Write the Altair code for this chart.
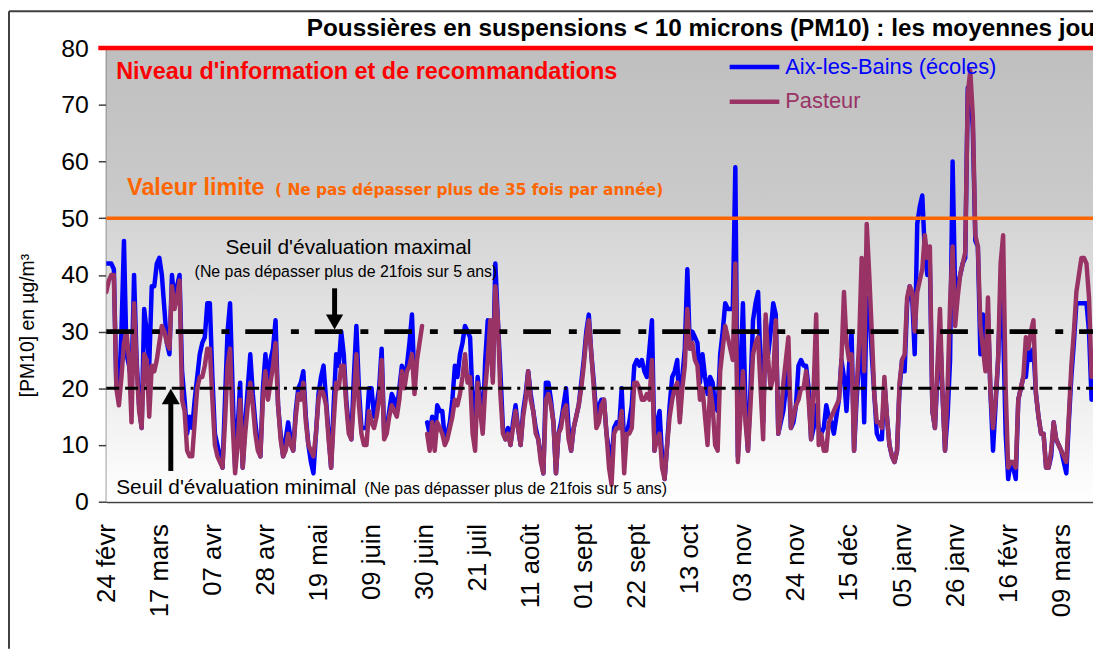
import json
import altair as alt
import pandas as pd

# ---------------- data ----------------
tick_labels = ["24 févr", "17 mars", "07 avr", "28 avr", "19 mai", "09 juin", "30 juin",
               "21 juil", "11 août", "01 sept", "22 sept", "13 oct", "03 nov", "24 nov",
               "15 déc", "05 janv", "26 janv", "16 févr", "09 mars"]
tick_step_days = 21
series_names = ["Aix-les-Bains (écoles)", "Pasteur"]
series_colors = ["#0000ff", "#993366"]

aix = [
    42, 42, 42, 41, 20, 19, 30, 46, 26, 24,
    21, 40, 25, 17, 13, 34, 30, 24, 38, 38,
    42, 43, 40, 34, 28, 26, 40, 35, 38, 40,
    23, 18, 12, 15, 13, 18, 22, 26, 28, 29,
    35, 35, 22, 12, 10, 8, 6, 18, 30, 35,
    20, 6, 13, 21, 6, 14, 20, 26, 19, 14,
    10, 8, 20, 26, 19, 25, 27, 32, 17, 12,
    8, 11, 14, 11, 9, 16, 20, 21, 23, 15,
    10, 7, 5, 12, 19, 22, 24, 18, 12, 6,
    17, 26, 24, 30, 26, 18, 13, 11, 22, 31,
    20, 13, 13, 13, 20, 20, 15, 17, 20, 27,
    12, 13, 16, 19, 18, 16, 20, 24, 22, 24,
    28, 33, 21, None, None, None, None, 14, 12, 15,
    11, 17, 16, 16, 11, 12, 14, 18, 24, 22,
    26, 28, 31, 30, 29, 18, 14, 22, 18, 13,
    25, 32, 30, 22, 42, 32, 23, 13, 11, 13,
    10, 14, 17, 13, 10, 16, 19, 23, 19, 16,
    13, 11, 8, 5, 21, 21, 18, 14, 5, 12,
    14, 17, 20, 13, 9, 13, 15, 17, 21, 25,
    30, 33, 26, 21, 15, 17, 18, 18, 12, 9,
    7, 13, 14, 13, 20, 10, 12, 14, 17, 24,
    25, 24, 25, 23, 22, 27, 32, 9, 14, 16,
    8, 4, 10, 17, 22, 23, 25, 15, 22, 27,
    41, 27, 30, 29, 28, 21, 26, 22, 19, 22,
    21, 17, 16, 26, 30, 35, 34, 34, 34, 59,
    8, 22, 35, 17, 9, 20, 32, 35, 37, 24,
    14, 32, 26, 30, 35, 33, 12, 14, 16, 20,
    24, 13, 14, 17, 24, 25, 24, 24, 20, 11,
    13, 17, 13, 12, 13, 17, 15, 14, 12, 15,
    18, 25, 22, 16, 24, 30, 9, 18, 25, 30,
    14, 36, 35, 26, 19, 12, 11, 11, 21, 15,
    10, 8, 7, 9, 20, 25, 23, 35, 38, 36,
    26, 49, 52, 54, 44, 40, 42, 16, 13, 22,
    30, 19, 9, 15, 25, 60, 37, 38, 40, 42,
    43, 73, 72, 66, 46, 45, 26, 33, 24, 33,
    19, 9, 17, 25, 37, 31, 12, 4, 7, 6,
    4, 18, 20, 22, 22, 27, 25, 27, 19, 15,
    12, 12, 6, 6, 8, 14, 11, 10, 9, 7,
    5, 14, 22, 28, 35, 35, 35, 35, 35, 30, 18,
]

pasteur = [
    37, 39, 40, 40, 20, 17, 22, 28, 30, 25,
    14, 35, 24, 16, 13, 26, 25, 15, 24, 23,
    25, 28, 31, 30, 28, 27, 38, 34, 36, 39,
    18, 16, 9, 8, 8, 14, 20, 22, 22, 24,
    27, 27, 18, 10, 8, 7, 6, 14, 24, 27,
    14, 5, 10, 18, 6, 12, 17, 21, 17, 12,
    9, 8, 18, 23, 18, 21, 24, 28, 17, 11,
    8, 9, 12, 10, 9, 15, 19, 18, 21, 14,
    10, 9, 8, 12, 18, 20, 19, 17, 11, 6,
    14, 21, 20, 24, 24, 17, 12, 11, 18, 26,
    17, 12, 10, 10, 16, 14, 13, 15, 18, 25,
    11, 12, 15, 17, 16, 15, 18, 23, 20, 23,
    24, 26, 19, 25, 28, 31, None, 12, 9, 14,
    9, 14, 13, 12, 10, 11, 13, 15, 18, 17,
    19, 22, 26, 21, 22, 12, 9, 21, 16, 12,
    20, 25, 32, 21, 38, 32, 19, 12, 11, 12,
    10, 13, 16, 13, 10, 15, 18, 23, 18, 16,
    12, 11, 7, 5, 18, 19, 17, 14, 5, 12,
    13, 16, 17, 11, 9, 13, 15, 17, 20, 24,
    29, 32, 26, 20, 13, 14, 17, 18, 12, 6,
    3, 12, 13, 13, 16, 5, 12, 12, 13, 21,
    21, 20, 18, 18, 19, 18, 25, 9, 11, 12,
    6, 4, 10, 15, 18, 20, 21, 14, 20, 24,
    34, 27, 28, 25, 24, 18, 20, 15, 10, 20,
    17, 10, 9, 23, 27, 31, 29, 27, 25, 42,
    7, 15, 23, 14, 9, 17, 26, 28, 29, 20,
    11, 33, 25, 20, 22, 32, 12, 15, 21, 25,
    29, 13, 15, 17, 18, 20, 20, 23, 18, 11,
    20, 33, 10, 12, 9, 9, 14, 15, 16, 17,
    18, 25, 37, 28, 25, 26, 9, 20, 28, 43,
    23, 49, 40, 30, 19, 14, 14, 13, 22, 15,
    10, 8, 7, 9, 21, 25, 26, 36, 38, 37,
    30, 37, 39, 41, 47, 43, 45, 16, 13, 24,
    34, 19, 9, 20, 35, 45, 31, 36, 40, 42,
    44, 72, 76, 68, 47, 45, 31, 27, 23, 36,
    19, 13, 18, 25, 42, 47, 20, 6, 7, 7,
    6, 18, 20, 22, 29, 27, 30, 32, 19, 15,
    12, 12, 6, 6, 9, 14, 11, 10, 9, 8,
    7, 15, 24, 30, 37, 40, 43, 43, 42, 36, 22,
]

gap_day = 125  # measurements missing around here (line broken)
y_ticks = [0, 10, 20, 30, 40, 50, 60, 70, 80]

# ---------------- layout ----------------
W, H = 994, 457
PAD = {"left": 99, "top": 38, "right": 0, "bottom": 148}
X_MAX = 390.57
FONT = "Liberation Sans"

rows = []
for name, vals in zip(series_names, [aix, pasteur]):
    for d, v in enumerate(vals):
        if v is not None:
            rows.append({"day": d, "value": v, "series": name, "seg": 0 if d <= gap_day else 1})
df = pd.DataFrame(rows)

label_array = json.dumps(tick_labels, ensure_ascii=False)
x_scale = alt.Scale(domain=[0, X_MAX], nice=False, zero=False)
y_scale = alt.Scale(domain=[0, 80], nice=False, zero=True)

x_axis = alt.Axis(values=[i * tick_step_days for i in range(len(tick_labels))],
                  labelExpr=f"{label_array}[round(datum.value / {tick_step_days})]",
                  labelAngle=270, labelFontSize=26, labelFont=FONT, labelColor="#000000",
                  labelPadding=22, ticks=False, tickSize=0, domainColor="#404040",
                  domainWidth=2, grid=False, title=None, labelOverlap=False, labelFlush=False)
y_axis = alt.Axis(values=y_ticks, labelFontSize=25, labelFont=FONT, labelColor="#000000",
                  labelPadding=10, tickSize=8, tickColor="#404040", tickWidth=1.5,
                  domainColor="#404040", domainWidth=2, grid=False,
                  title="[PM10] en µg/m³", titleFont=FONT, titleFontSize=19.5,
                  titleFontWeight="normal", titleColor="#000000", titleAngle=270,
                  titleX=-73, titleY=279, titleAlign="center", titleBaseline="alphabetic")

one = alt.Data(values=[{}])


def grad(stops):
    return alt.LinearGradient(gradient="linear", x1=0, x2=0, y1=0, y2=1,
                              stops=[alt.GradientStop(offset=o, color=c) for o, c in stops])


bg_top = alt.Chart(one).mark_rect(fill=grad([(0, "#bfbfbf"), (1, "#cbcbcb")])).encode(
    x=alt.value(0), x2=alt.value(W), y=alt.Y(datum=80, scale=y_scale), y2=alt.Y2(datum=50))
bg_bot = alt.Chart(one).mark_rect(fill=grad([(0, "#d4d4d4"), (0.5, "#e8e8e8"), (1, "#ffffff")])).encode(
    x=alt.value(0), x2=alt.value(W), y=alt.Y(datum=50, scale=y_scale), y2=alt.Y2(datum=0))

lines = []
for name, col in zip(series_names, series_colors):
    lines.append(
        alt.Chart(df[df.series == name]).mark_line(
            color=col, strokeWidth=4.5, strokeJoin="round", strokeCap="round", clip=True
        ).encode(
            x=alt.X("day:Q", scale=x_scale, axis=x_axis),
            y=alt.Y("value:Q", scale=y_scale, axis=y_axis),
            detail="seg:N",
        )
    )


def hrule(val, color, width, dash=None, x0=0):
    kw = dict(color=color, strokeWidth=width)
    if dash:
        kw["strokeDash"] = dash
    return alt.Chart(one).mark_rule(**kw).encode(
        x=alt.value(x0), x2=alt.value(W), y=alt.Y(datum=val, scale=y_scale))


r20 = hrule(20, "#000000", 3, [13, 6, 13, 6, 3, 6])
r30 = hrule(30, "#000000", 5, [28, 18, 8, 16])
r50 = hrule(50, "#ff6600", 3.5)
r80 = hrule(80, "#ff0000", 4.5, x0=-8)


def txt(s, x, y, size, color="#000000", weight="normal", align="left", baseline="alphabetic",
        font=FONT):
    return alt.Chart(one).mark_text(text=s, font=font, fontSize=size, color=color,
                                    fontWeight=weight, align=align, baseline=baseline).encode(
        x=alt.value(x), y=alt.value(y))


def vrule(x, y1, y2, color="#000000", width=5):
    return alt.Chart(one).mark_rule(color=color, strokeWidth=width).encode(
        x=alt.value(x), y=alt.value(y1), y2=alt.value(y2))


def hseg(x1, x2, y, color, width):
    return alt.Chart(one).mark_rule(color=color, strokeWidth=width).encode(
        x=alt.value(x1), x2=alt.value(x2), y=alt.value(y))


def tri(x, y, shape, size):
    return alt.Chart(one).mark_point(shape=shape, size=size, filled=True, color="#000000",
                                     opacity=1).encode(x=alt.value(x), y=alt.value(y))


annotations = [
    txt("Poussières en suspensions < 10 microns (PM10) : les moyennes journalières",
        202, -12, 24.5, weight="bold"),
    txt("Niveau d'information et de recommandations", 10, 31, 23.6, "#ff0000", "bold"),
    txt("Valeur limite", 21, 148, 23.5, "#ff6600", "bold"),
    txt("( Ne pas dépasser plus de 35 fois par année)", 170, 148, 15.5, "#ff6600", "bold",
        font="DejaVu Sans"),
    txt("Seuil d'évaluation maximal", 120, 207, 21),
    txt("(Ne pas dépasser plus de 21fois sur 5 ans)", 89, 231, 16),
    txt("Seuil d'évaluation minimal", 10, 449, 21),
    txt("(Ne pas dépasser plus de 21fois sur 5 ans)", 260, 449, 16),
    vrule(230, 242, 270),
    tri(230, 276, "triangle-down", 300),
    vrule(65, 426, 356),
    tri(65, 351, "triangle-up", 330),
    # legend
    hseg(628, 678, 19, series_colors[0], 4.5),
    hseg(628, 678, 54, series_colors[1], 4.5),
    txt(series_names[0], 684, 19, 22, series_colors[0], baseline="middle"),
    txt(series_names[1], 684, 53, 22, series_colors[1], baseline="middle"),
    # outer frame
    vrule(-98, -37, H + PAD["bottom"], "#404040", 2),
    hseg(-98, W, -37, "#404040", 2),
]

chart = alt.layer(bg_top, bg_bot, *lines, r20, r30, r50, r80, *annotations).properties(
    width=W, height=H,
    autosize=alt.AutoSizeParams(type="none"),
    padding=PAD,
    background="#ffffff",
).configure_view(stroke=None)

chart.save("out.html", embed_options={"renderer": "svg", "actions": False})
